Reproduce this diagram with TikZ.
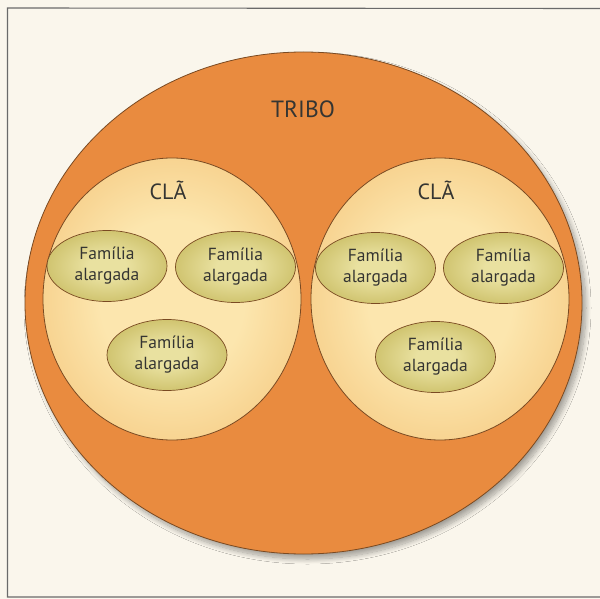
\documentclass[tikz,border=0pt]{standalone}
\usepackage{fontspec}
\setmainfont{PT Sans}
\usetikzlibrary{shapes.geometric,shadows.blur}
\definecolor{bgc}{HTML}{FAF6EC}
\definecolor{framec}{HTML}{6A6A6A}
\definecolor{tribec}{HTML}{E98B3F}
\definecolor{linec}{HTML}{7A4A22}
\definecolor{clanin}{HTML}{FCE6AE}
\definecolor{clanout}{HTML}{EDAA50}
\definecolor{famin}{HTML}{E9E1A0}
\definecolor{fammid}{HTML}{C9BC62}
\definecolor{famout}{HTML}{9C8C2E}
\definecolor{txtc}{HTML}{353532}
\pgfdeclareradialshading{clanshade}{\pgfpoint{0bp}{0bp}}{color(0bp)=(clanin); color(14bp)=(clanin); color(50bp)=(clanout)}
\pgfdeclareradialshading{famshade}{\pgfpoint{0bp}{0bp}}{color(0bp)=(famin); color(8bp)=(famin); color(30bp)=(fammid); color(50bp)=(famout)}
\tikzset{
  tribebox/.style={ellipse, inner sep=0pt, minimum width=557pt, minimum height=502pt,
    fill=tribec, draw=linec, line width=0.8pt,
    blur shadow={shadow xshift=4pt, shadow yshift=-5pt, shadow blur steps=12, shadow opacity=35, shadow blur radius=5pt}},
  clanbox/.style={ellipse, inner sep=0pt, minimum width=258pt, minimum height=282pt,
    shading=clanshade, draw=linec, line width=0.8pt},
  fambox/.style={ellipse, inner sep=0pt, minimum width=120pt, minimum height=71pt,
    shading=famshade, draw=linec, line width=0.7pt, text=txtc, align=center,
    font=\fontsize{17.5}{21}\selectfont},
  bigtext/.style={text=txtc, inner sep=0pt, font=\fontsize{23.5}{25}\selectfont},
  clantext/.style={text=txtc, inner sep=0pt, font=\fontsize{22}{24}\selectfont}
}
\begin{document}
\begin{tikzpicture}[x=1pt,y=-1pt]
\useasboundingbox (0,0) rectangle (600,599);
\fill[bgc] (0,0) rectangle (600,599);
\draw[framec, line width=1.1pt] (600,8.5) -- (7.5,8) -- (7.5,597) -- (600,597);

\node[tribebox] (tribe) at (303.5,303) {};
\node[bigtext] (tribelabel) at (303,109) {TRIBO};

\node[clanbox] (clanL) at (172,299) {};
\node[clanbox] (clanR) at (440,299) {};
\node[clantext] (clanLlabel) at (168,190) {CLÃ};
\node[clantext] (clanRlabel) at (436,190) {CLÃ};

\node[fambox] (famA) at (107,266) {Família\\alargada};
\node[fambox] (famB) at (235.5,267) {Família\\alargada};
\node[fambox] (famC) at (167,355) {Família\\alargada};
\node[fambox] (famD) at (375.5,268) {Família\\alargada};
\node[fambox] (famE) at (503.5,268) {Família\\alargada};
\node[fambox] (famF) at (435.5,357) {Família\\alargada};
\end{tikzpicture}
\end{document}
